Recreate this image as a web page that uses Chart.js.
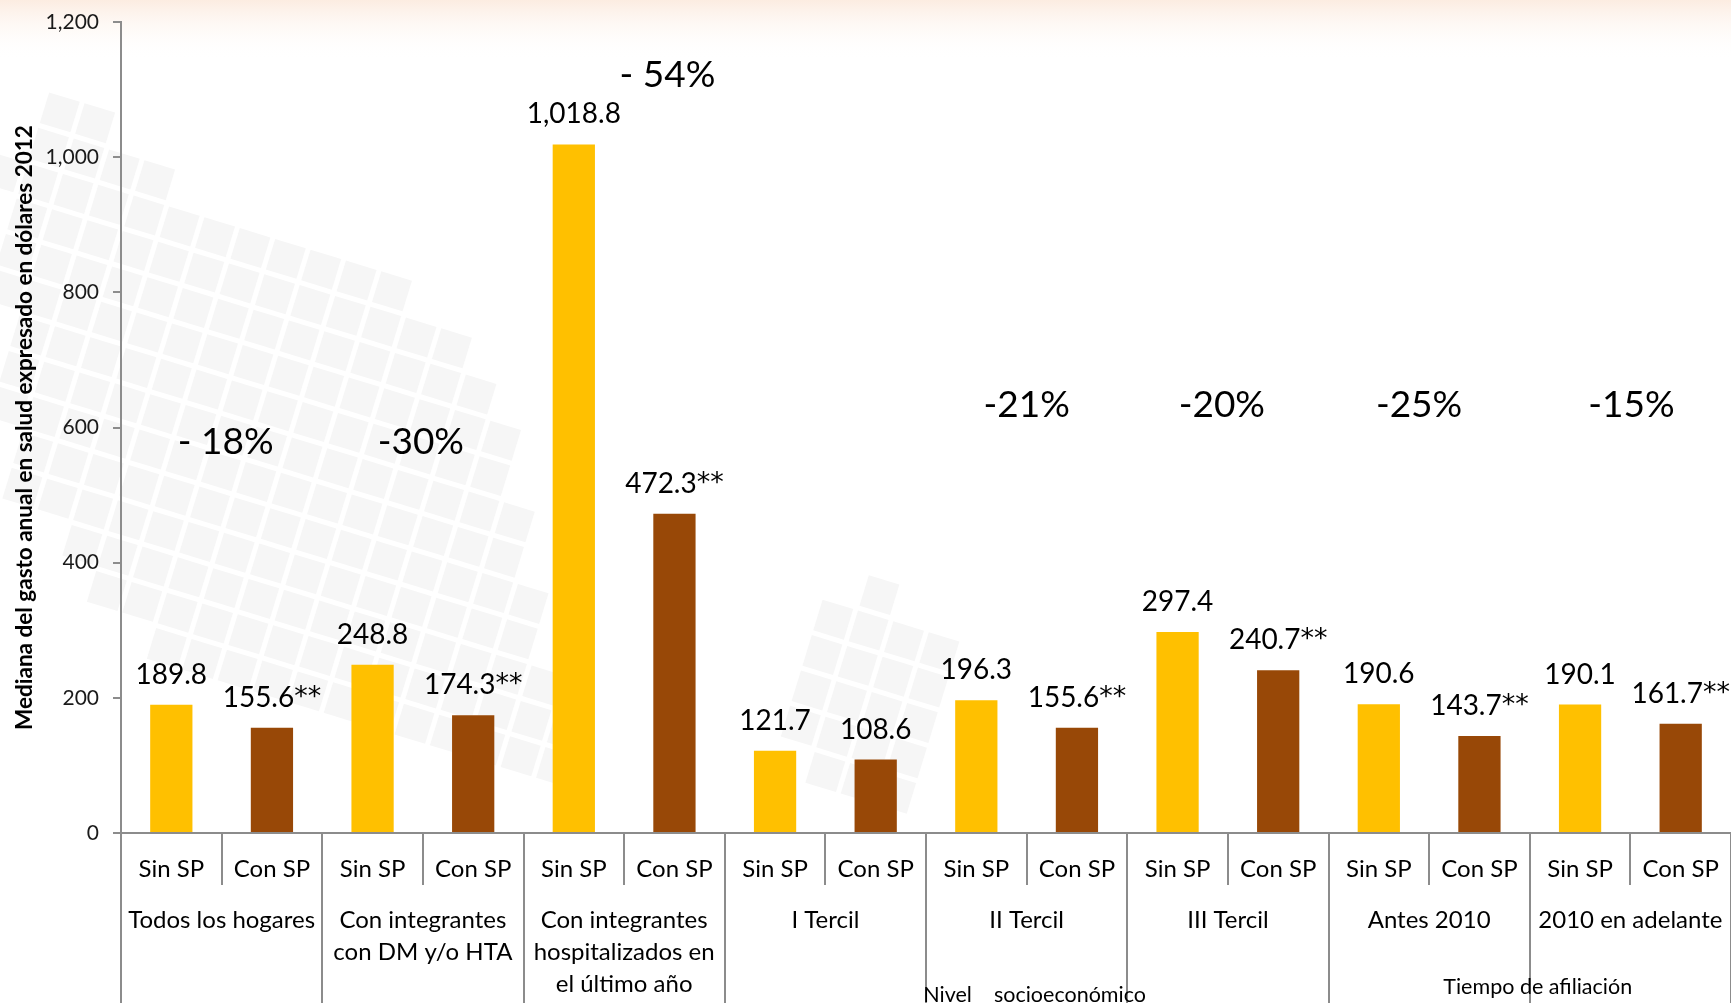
<!DOCTYPE html>
<html lang="es">
<head>
<meta charset="utf-8">
<title>Mediana del gasto anual en salud</title>
<script src="https://cdn.jsdelivr.net/npm/chart.js@4.4.1/dist/chart.umd.min.js"></script>
<style>
  html, body { margin: 0; padding: 0; background: #fff; overflow: hidden; }
  #wrap { position: relative; width: 1731px; height: 1003px; }
</style>
</head>
<body>
<div id="wrap"><canvas id="gasto"></canvas></div>
<script>
// grupos de hogares (etiquetas de segundo nivel del eje x)
const grupos = [
  'Todos los hogares',
  ['Con integrantes', 'con DM y/o HTA'],
  ['Con integrantes', 'hospitalizados en', 'el último año'],
  'I Tercil',
  'II Tercil',
  'III Tercil',
  'Antes 2010',
  '2010 en adelante'
];
const subCategorias = ['Sin SP', 'Con SP'];

// mediana del gasto, dólares 2012
const sinSP = [189.8, 248.8, 1018.8, 121.7, 196.3, 297.4, 190.6, 190.1];
const conSP = [155.6, 174.3, 472.3, 108.6, 155.6, 240.7, 143.7, 161.7];
const conSignificancia = [true, true, true, false, true, true, true, true];

const variaciones = ['- 18%', '-30%', '- 54%', '-21%', '-20%', '-25%', '-15%'];

// tercer nivel: [texto, primer grupo, último grupo]
const niveles = [
  ['Nivel    socioeconómico', 3, 5],
  ['Tiempo de afiliación', 6, 7]
];

const yTicks = { min: 0, max: 1200, step: 200 };

// ---- datos intercalados Sin SP / Con SP ----
const etiquetasX = [];
const valores = [];
const numeros = [];
const asteriscos = [];
const colores = [];
const fmt = new Intl.NumberFormat('en-US', { minimumFractionDigits: 1, maximumFractionDigits: 1 });
grupos.forEach((g, i) => {
  etiquetasX.push(subCategorias[0], subCategorias[1]);
  valores.push(sinSP[i], conSP[i]);
  numeros.push(fmt.format(sinSP[i]), fmt.format(conSP[i]));
  asteriscos.push('', conSignificancia[i] ? '**' : '');
  colores.push('#ffc000', '#984807');
});

const LINEA = '#8c8c8c';

// fondo: degradado superior y mosaico gris claro
const zonasMosaico = [
  [[70,100],[232,240],[390,250],[500,410],[530,600],[540,680],[600,740],[560,790],[470,760],[300,700],[200,680],[130,620],[40,520],[0,470],[0,160]],
  [[800,610],[880,590],[945,650],[905,800],[800,800]]
];
function dentro(p, poly) {
  let c = false;
  for (let i = 0, j = poly.length - 1; i < poly.length; j = i++) {
    const [xi, yi] = poly[i], [xj, yj] = poly[j];
    if ((yi > p[1]) !== (yj > p[1]) && p[0] < (xj - xi) * (p[1] - yi) / (yj - yi) + xi) c = !c;
  }
  return c;
}
const fondo = {
  id: 'fondo',
  beforeDraw(chart) {
    const { ctx, width, height } = chart;
    ctx.save();
    ctx.fillStyle = '#fff';
    ctx.fillRect(0, 0, width, height);
    const g = ctx.createLinearGradient(0, 0, 0, 60);
    g.addColorStop(0, '#fcece1');
    g.addColorStop(1, 'rgba(255,255,255,0)');
    ctx.fillStyle = g;
    ctx.fillRect(0, 0, width, 60);

    const ang = 17 * Math.PI / 180, paso = 37, lado = 32;
    const cos = Math.cos(ang), sin = Math.sin(ang);
    ctx.fillStyle = '#f6f6f6';
    for (let i = -20; i < 50; i++) {
      for (let j = -40; j < 40; j++) {
        const u = i * paso + lado / 2, v = j * paso + lado / 2;
        const cx = u * cos - v * sin, cy = u * sin + v * cos;
        if (!zonasMosaico.some(z => dentro([cx, cy], z))) continue;
        ctx.save();
        ctx.translate(cx, cy);
        ctx.rotate(ang);
        ctx.fillRect(-lado / 2, -lado / 2, lado, lado);
        ctx.restore();
      }
    }
    ctx.restore();
  }
};

// valores sobre cada barra y porcentajes de cambio
const posVariaciones = [[0.54, 578], [2.48, 578], [4.93, 1121], [8.5, 633], [10.44, 633], [12.4, 633], [14.51, 633]];
const rotulos = {
  id: 'rotulos',
  afterDatasetsDraw(chart) {
    const { ctx, scales: { x, y } } = chart;
    ctx.save();
    ctx.fillStyle = '#000';
    ctx.textBaseline = 'middle';
    ctx.textAlign = 'left';
    const fNum = '28px Lato', fAst = '27px "DejaVu Sans"';
    chart.getDatasetMeta(0).data.forEach((bar, i) => {
      ctx.font = fNum;
      const w1 = ctx.measureText(numeros[i]).width;
      ctx.font = fAst;
      const w2 = asteriscos[i] ? ctx.measureText(asteriscos[i]).width : 0;
      const x0 = bar.x - (w1 + w2) / 2;
      ctx.font = fNum;
      ctx.fillText(numeros[i], x0, bar.y - 30);
      if (w2) {
        ctx.font = fAst;
        ctx.fillText(asteriscos[i], x0 + w1, bar.y - 30);
      }
    });
    ctx.textAlign = 'center';
    ctx.font = '37px Lato';
    variaciones.forEach((t, i) => {
      const [cx, v] = posVariaciones[i];
      ctx.fillText(t, x.getPixelForValue(cx), y.getPixelForValue(v));
    });
    ctx.restore();
  }
};

// eje x de varios niveles: separadores y nombres de grupo
const altoNiveles = [162, 154];
const ejeGrupos = {
  id: 'ejeGrupos',
  afterDraw(chart) {
    const { ctx, scales: { x }, chartArea } = chart;
    const base = chartArea.bottom;
    ctx.save();
    ctx.strokeStyle = LINEA;
    ctx.lineWidth = 2;
    for (let i = 0; i <= etiquetasX.length; i++) {
      const px = Math.round(x.getPixelForValue(i - 0.5));
      const fin = i % 2 === 0 ? chart.height : base + 52;
      ctx.beginPath();
      ctx.moveTo(px, base);
      ctx.lineTo(px, fin);
      ctx.stroke();
    }
    ctx.fillStyle = '#000';
    ctx.textAlign = 'center';
    ctx.textBaseline = 'middle';
    ctx.font = '24px Lato';
    grupos.forEach((g, i) => {
      const cx = x.getPixelForValue(2 * i + 0.5);
      [].concat(g).forEach((linea, k) => ctx.fillText(linea, cx, base + 87 + k * 32));
    });
    ctx.font = '21.5px Lato';
    niveles.forEach(([t, a, b], k) => {
      const cx = x.getPixelForValue((2 * a + 2 * b + 1) / 2) + 8;
      ctx.fillText(t, cx, base + altoNiveles[k]);
    });
    ctx.restore();
  }
};

function dibujar() {
  Chart.defaults.font.family = 'Lato';
  Chart.defaults.color = '#000';

  new Chart(document.getElementById('gasto'), {
    type: 'bar',
    data: {
      labels: etiquetasX,
      datasets: [{
        data: valores,
        backgroundColor: colores,
        categoryPercentage: 1,
        barPercentage: 0.42
      }]
    },
    options: {
      responsive: true,
      maintainAspectRatio: false,
      animation: false,
      layout: { padding: { top: 22, right: 0, bottom: 0, left: 0 } },
      plugins: {
        legend: { display: false },
        tooltip: { enabled: false }
      },
      scales: {
        x: {
          grid: { display: false, drawTicks: false },
          border: { display: true, color: LINEA, width: 2 },
          ticks: { font: { size: 24 }, padding: 22, maxRotation: 0, autoSkip: false },
          afterFit(s) { s.height = 170; s.paddingLeft = 0; s.paddingRight = 0; }
        },
        y: {
          min: yTicks.min,
          max: yTicks.max,
          grid: { display: true, drawOnChartArea: false, drawTicks: true, tickLength: 8, color: LINEA, lineWidth: 2 },
          border: { display: true, color: LINEA, width: 2 },
          ticks: {
            stepSize: yTicks.step,
            padding: 14,
            font: { size: 21 },
            color: '#1a1a1a',
            callback: v => v.toLocaleString('en-US')
          },
          title: {
            display: true,
            text: 'Mediana del gasto anual en salud expresado en dólares 2012',
            font: { size: 22.5, weight: 'bold' },
            padding: { top: 11, bottom: 0 }
          },
          afterFit(s) { s.width = 121; s.paddingTop = 0; s.paddingBottom = 0; }
        }
      }
    },
    plugins: [fondo, rotulos, ejeGrupos]
  });
}

if (document.fonts && document.fonts.load) {
  Promise.all([document.fonts.load('24px Lato'), document.fonts.load('bold 21px Lato')])
    .then(dibujar, dibujar);
} else {
  dibujar();
}
</script>
</body>
</html>
